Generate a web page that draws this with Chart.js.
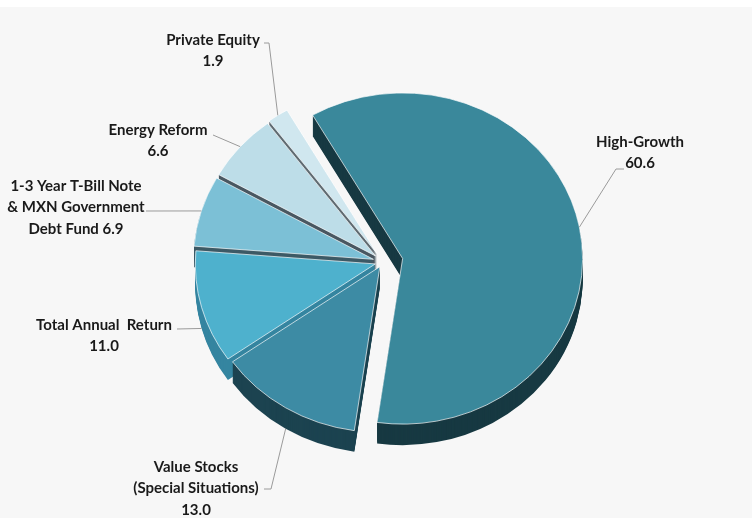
<!DOCTYPE html>
<html>
<head>
<meta charset="utf-8">
<script src="https://cdn.jsdelivr.net/npm/chart.js@4.4.1/dist/chart.umd.min.js"></script>
<style>
  html, body { margin: 0; padding: 0; }
  #wrap { width: 752px; height: 518px; background: linear-gradient(#ffffff 0 7px, #f7f7f7 7px); }
</style>
</head>
<body>
<div id="wrap"><canvas id="grafico"></canvas></div>
<script>
const categorias = ["High-Growth", "Value Stocks (Special Situations)", "Total Annual Return",
  "1-3 Year T-Bill Note & MXN Government Debt Fund", "Energy Reform", "Private Equity"];
const valores = [60.6, 13.0, 11.0, 6.9, 6.6, 1.9];
// linhas do rótulo, {v} = valor
const rotulos = [
  ["High-Growth", "{v}"],
  ["Value Stocks", "(Special Situations)", "{v}"],
  ["Total Annual  Return", "{v}"],
  ["1-3 Year T-Bill Note", "& MXN Government", "Debt Fund {v}"],
  ["Energy Reform", "{v}"],
  ["Private Equity", "{v}"]
];

const cores = ["#3a889b", "#3d8ba4", "#4eb1cd", "#7cc0d6", "#bddde8", "#d0e7ef"];
const lados = ["#173942", "#1c4350", "#3585a0", "#3d5a66", "#4a5862", "#5f6b72"];
const explosao = [20, 6, 8, 10, 10, 11];
const SY = 0.92;    // achatamento vertical
const PROF = 21;    // espessura da pizza

// posição do texto e início da linha guia
const posRotulos = [
  { x: 640, y: 142, linha: [[624, 169], [616, 169]] },
  { x: 196, y: 467, linha: [[264, 489], [271, 489]], lado: true },
  { x: 104, y: 325, linha: [[177, 329]], lado: true },
  { x: 76, y: 186, linha: [[146, 211]] },
  { x: 158, y: 130, linha: [[213, 135]] },
  { x: 213, y: 40, linha: [[264, 43], [269, 43]] }
];

function deslocamento(arc, i) {
  const meio = (arc.startAngle + arc.endAngle) / 2;
  return { x: Math.cos(meio) * explosao[i], y: Math.sin(meio) * explosao[i] };
}

const pizza3d = {
  id: "pizza3d",
  beforeDatasetsDraw(chart) {
    const ctx = chart.ctx;
    const arcs = chart.getDatasetMeta(0).data;
    const cx = arcs[0].x, cy = arcs[0].y;
    ctx.save();
    ctx.translate(cx, cy);
    ctx.scale(1, SY);
    ctx.translate(-cx, -cy);

    // lateral
    for (let d = PROF; d > 0; d--) {
      arcs.forEach((arc, i) => {
        const p = deslocamento(arc, i);
        const x = arc.x + p.x, y = arc.y + p.y + d / SY;
        ctx.beginPath();
        ctx.moveTo(x, y);
        ctx.arc(x, y, arc.outerRadius, arc.startAngle, arc.endAngle);
        ctx.closePath();
        ctx.fillStyle = lados[i];
        ctx.fill();
      });
    }

    // topo
    arcs.forEach((arc, i) => {
      const p = deslocamento(arc, i);
      ctx.save();
      ctx.translate(p.x, p.y);
      arc.draw(ctx);
      ctx.restore();
    });
    ctx.restore();
    return false;
  },
  afterDraw(chart) {
    const ctx = chart.ctx;
    const arcs = chart.getDatasetMeta(0).data;
    const cy = arcs[0].y;
    ctx.save();
    ctx.font = "bold 15px Lato";
    ctx.fillStyle = "#1a1a1a";
    ctx.textAlign = "center";
    ctx.textBaseline = "middle";
    ctx.strokeStyle = "#9a9a9a";
    ctx.lineWidth = 1;

    arcs.forEach((arc, i) => {
      const cfg = posRotulos[i];
      rotulos[i].forEach((t, k) => {
        ctx.fillText(t.replace("{v}", valores[i].toFixed(1)), cfg.x, cfg.y + k * 21.5);
      });
      const p = deslocamento(arc, i);
      const meio = (arc.startAngle + arc.endAngle) / 2;
      const ex = arc.x + p.x + Math.cos(meio) * arc.outerRadius;
      const eyT = arc.y + p.y + Math.sin(meio) * arc.outerRadius;
      const ey = cy + (eyT - cy) * SY + (cfg.lado ? PROF : 0);
      ctx.beginPath();
      ctx.moveTo(cfg.linha[0][0], cfg.linha[0][1]);
      cfg.linha.slice(1).forEach(pt => ctx.lineTo(pt[0], pt[1]));
      ctx.lineTo(ex, ey);
      ctx.stroke();
    });
    ctx.restore();
  }
};

new Chart(document.getElementById("grafico"), {
  type: "pie",
  data: {
    labels: categorias,
    datasets: [{
      data: valores,
      backgroundColor: cores,
      borderColor: "rgba(255,255,255,0.7)",
      borderWidth: 1,
      radius: 180,
      rotation: -30
    }]
  },
  options: {
    responsive: true,
    maintainAspectRatio: false,
    animation: false,
    layout: { padding: { left: 14, right: 0, top: 6, bottom: 0 } },
    plugins: {
      legend: { display: false },
      tooltip: { enabled: false }
    }
  },
  plugins: [pizza3d]
});
</script>
</body>
</html>
